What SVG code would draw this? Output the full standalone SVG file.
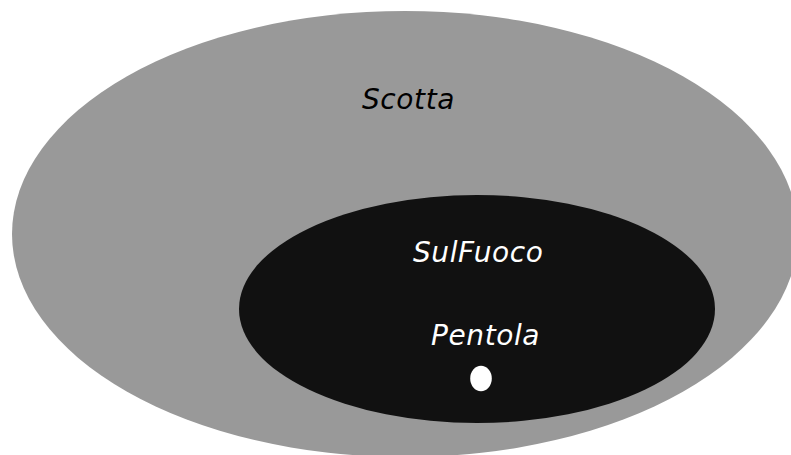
<svg xmlns="http://www.w3.org/2000/svg" width="791" height="455" viewBox="0 0 791 455">
<style>
.lbl{font-family:"DejaVu Sans","Verdana",sans-serif;font-style:italic;font-size:28px;letter-spacing:0.6px}
</style>
<rect width="791" height="455" fill="#ffffff"/>
<g id="scotta">
<ellipse cx="405" cy="234" rx="393" ry="223" fill="#999999"/>
<text class="lbl" x="362" y="109" fill="#000000">Scotta</text>
</g>
<g id="sulfuoco">
<ellipse cx="477" cy="309" rx="238" ry="114" fill="#111111"/>
<text class="lbl" x="413" y="262" fill="#ffffff">SulFuoco</text>
</g>
<g id="pentola">
<text class="lbl" x="431" y="345" fill="#ffffff">Pentola</text>
<ellipse cx="481" cy="378.5" rx="10.8" ry="12.7" fill="#ffffff"/>
</g>
<g id="connectors"></g>
</svg>
